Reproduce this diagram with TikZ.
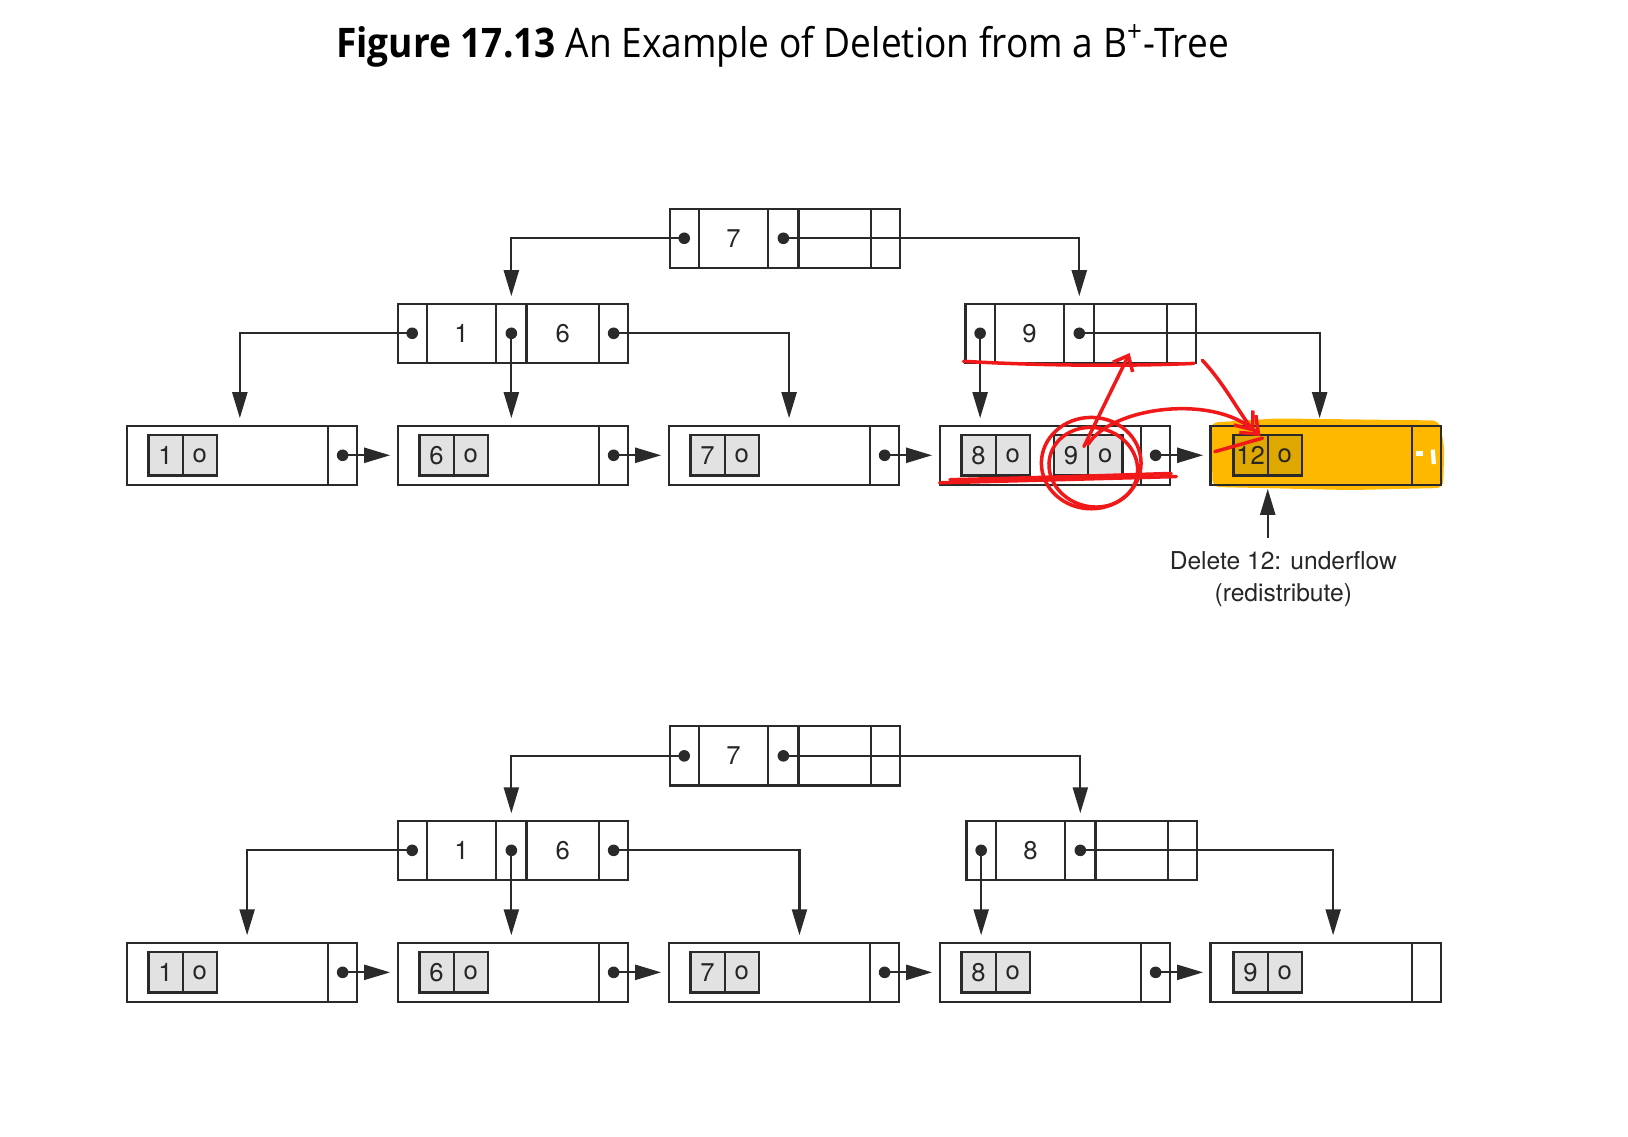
\documentclass[tikz,border=0pt]{standalone}
\usepackage{fontspec}
\usepackage{tikz}
\usetikzlibrary{positioning,calc,arrows.meta}
\newfontfamily\titlefont[FakeStretch=0.91]{Open Sans}
\newfontfamily\diafont{TeX Gyre Heros}
\definecolor{linegray}{HTML}{2A2A2A}
\definecolor{keygray}{HTML}{E2E2E2}
\definecolor{hlyellow}{RGB}{255,184,0}
\definecolor{hlkey}{RGB}{222,168,0}
\definecolor{penred}{RGB}{240,24,24}
\newlength\un \setlength\un{0.10383mm}

\tikzset{
  cell/.style={draw=linegray, line width=0.65pt, inner sep=0pt, outer sep=0pt,
    minimum height=57*\un, text=black!85, font=\diafont\fontsize{7.3}{8}\selectfont},
  ptrcell/.style={cell, minimum width=28*\un},
  keycell/.style={cell, minimum width=#1*\un},
  kbox/.style={cell, minimum height=39*\un, minimum width=33*\un, fill=keygray},
  ptr/.style={draw=linegray, line width=0.65pt, -{Triangle[length=2.6mm,width=1.5mm]}, shorten >=0.75mm},
  ptrdot/.style={fill=linegray},
  redpen/.style={draw=penred, line width=1pt, line cap=round, line join=round}
}

% index node: p0 k1 p1 k2 p2
\newcommand{\treenode}[4]{%
  \node[ptrcell, anchor=west] (#1-p0) at (#2) {};
  \node[keycell=67, right=0pt of #1-p0] (#1-k1) {#3};
  \node[ptrcell, minimum width=29*\un, right=0pt of #1-k1] (#1-p1) {};
  \node[keycell=70, right=0pt of #1-p1] (#1-k2) {#4};
  \node[ptrcell, right=0pt of #1-k2] (#1-p2) {};}
% leaf: data part and next pointer
\newcommand{\leafnode}[2]{%
  \node[keycell=194, anchor=west] (#1) at (#2) {};
  \node[ptrcell, right=0pt of #1] (#1-n) {};}
\newcommand{\keypair}[4][keygray]{%
  \node[kbox, fill=#1, anchor=west] (#2-k) at (#3) {#4};
  \node[kbox, fill=#1, right=0pt of #2-k] (#2-o) {o};}

\begin{document}
\begin{tikzpicture}[x=0.10383mm, y=-0.10383mm]
\useasboundingbox (0,0) rectangle (1568,1095);

\node[anchor=base west, inner sep=0pt, font=\titlefont\fontsize{11.6}{14}\selectfont] (title) at (323,55)
  {\textbf{Figure 17.13} An Example of Deletion from a B\textsuperscript{+}-Tree};

% highlighter under leaf 12
\fill[hlyellow, rounded corners=2pt] (1166,407) -- (1230,403) -- (1386,405) -- (1391,430)
  -- (1390,470) -- (1300,472) -- (1168,469) -- cycle;

%%% before: delete 12
\treenode{Tr}{645,229.5}{7}{}
\treenode{Ta}{383,321}{1}{6}
\treenode{Tb}{930,321}{9}{}
\leafnode{Tl1}{122,438.5}
\leafnode{Tl2}{383,438.5}
\leafnode{Tl3}{644,438.5}
\leafnode{Tl4}{905,438.5}
\leafnode{Tl5}{1166,438.5}
\keypair{Tl1}{143,438.5}{1}
\keypair{Tl2}{404,438.5}{6}
\keypair{Tl3}{665,438.5}{7}
\keypair{Tl4}{926,438.5}{8}
\keypair{Tl4b}{1015,438.5}{9}
\keypair[hlkey]{Tl5}{1188,438.5}{12}

\draw[ptr] (Tr-p0.center) -| (Ta-p1.north);
\draw[ptr] (Tr-p1.center) -| (Tb-p1.north);
\draw[ptr] (Ta-p0.center) -| ($(Tl1.north west)+(109,0)$);
\draw[ptr] (Ta-p1.center) -- (Ta-p1.center |- Tl2.north);
\draw[ptr] (Ta-p2.center) -| ($(Tl3.north west)+(116,0)$);
\draw[ptr] (Tb-p0.center) -- (Tb-p0.center |- Tl4.north);
\draw[ptr] (Tb-p1.center) -| ($(Tl5.north west)+(105,0)$);
\draw[ptr] (Tl1-n.center) -- (Tl2.west);
\draw[ptr] (Tl2-n.center) -- (Tl3.west);
\draw[ptr] (Tl3-n.center) -- (Tl4.west);
\draw[ptr] (Tl4-n.center) -- (Tl5.west);
\foreach \d in {Tr-p0,Tr-p1,Ta-p0,Ta-p1,Ta-p2,Tb-p0,Tb-p1,Tl1-n,Tl2-n,Tl3-n,Tl4-n}
  \fill[ptrdot] (\d.center) circle (0.58mm);

\node[font=\diafont\fontsize{7}{9}\selectfont, align=center, text=black!85, inner sep=0pt] (lbl) at (1236,558)
  {Delete 12: underflow\\(redistribute)};
\draw[ptr, shorten >=0.4mm] ($(lbl.north -| Tl5-k.east)+(0,-13)$) -- (Tl5-k.east |- Tl5.south);

%%% after redistribution
\treenode{Br}{645,728}{7}{}
\treenode{Ba}{383,819}{1}{6}
\treenode{Bb}{931,819}{8}{}
\leafnode{Bl1}{122,936.5}
\leafnode{Bl2}{383,936.5}
\leafnode{Bl3}{644,936.5}
\leafnode{Bl4}{905,936.5}
\leafnode{Bl5}{1166,936.5}
\keypair{Bl1}{143,936.5}{1}
\keypair{Bl2}{404,936.5}{6}
\keypair{Bl3}{665,936.5}{7}
\keypair{Bl4}{926,936.5}{8}
\keypair{Bl5}{1188,936.5}{9}

\draw[ptr] (Br-p0.center) -| (Ba-p1.north);
\draw[ptr] (Br-p1.center) -| (Bb-p1.north);
\draw[ptr] (Ba-p0.center) -| ($(Bl1.north west)+(116,0)$);
\draw[ptr] (Ba-p1.center) -- (Ba-p1.center |- Bl2.north);
\draw[ptr] (Ba-p2.center) -| ($(Bl3.north west)+(126,0)$);
\draw[ptr] (Bb-p0.center) -- (Bb-p0.center |- Bl4.north);
\draw[ptr] (Bb-p1.center) -| ($(Bl5.north west)+(118,0)$);
\draw[ptr] (Bl1-n.center) -- (Bl2.west);
\draw[ptr] (Bl2-n.center) -- (Bl3.west);
\draw[ptr] (Bl3-n.center) -- (Bl4.west);
\draw[ptr] (Bl4-n.center) -- (Bl5.west);
\foreach \d in {Br-p0,Br-p1,Ba-p0,Ba-p1,Ba-p2,Bb-p0,Bb-p1,Bl1-n,Bl2-n,Bl3-n,Bl4-n}
  \fill[ptrdot] (\d.center) circle (0.58mm);

% red pen marks
\draw[redpen] (928,348) .. controls (1000,352) and (1080,353) .. (1150,350);
\draw[redpen, -{Straight Barb[length=1.3mm,width=2.2mm]}] (1044,430) -- (1088,340);
\draw[redpen] (1051,446) ellipse [x radius=48, y radius=44];
\draw[redpen, rotate around={-15:(1053,450)}] (1053,450) ellipse [x radius=43, y radius=38];
\draw[redpen] (905,465) -- (1133,459);
\draw[redpen] (915,462) .. controls (1000,460) .. (1128,456);
\draw[redpen, -{Straight Barb[length=1.5mm,width=2.4mm]}] (1048,428) .. controls (1070,392) and (1170,378) .. (1214,420);
\draw[redpen, -{Straight Barb[length=1.5mm,width=2.4mm]}] (1158,347) .. controls (1178,368) and (1192,395) .. (1208,416);
\draw[redpen] (1170,435) -- (1216,422);
\draw[white, line width=1.5pt] (1364,437) -- (1371,437);
\draw[white, line width=1.2pt] (1380,433) -- (1381,447);
\end{tikzpicture}
\end{document}
